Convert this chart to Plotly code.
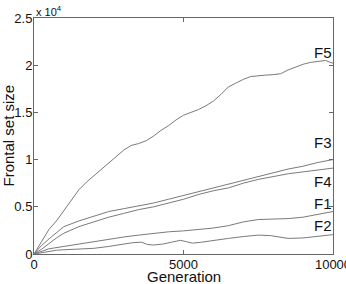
import plotly.graph_objects as go

gen_f5 = [0, 250, 500, 750, 1000, 1250, 1500, 1750, 2000, 2250, 2500, 2750, 3000, 3250, 3500, 3750, 4000, 4250, 4500, 4750, 5000, 5250, 5500, 5750, 6000, 6250, 6500, 6750, 7000, 7250, 7500, 7750, 8000, 8250, 8500, 8750, 9000, 9250, 9500, 9750, 10000]
f5 = [0, 1300, 2600, 3500, 4600, 5800, 6800, 7600, 8300, 9000, 9600, 10400, 11000, 11500, 11700, 12000, 12500, 13100, 13600, 14200, 14700, 15000, 15300, 15700, 16200, 16900, 17700, 18100, 18500, 18800, 18900, 18950, 19000, 19100, 19500, 19800, 20100, 20300, 20400, 20500, 20200]

gen_f34 = [0, 250, 500, 750, 1000, 1500, 2000, 2500, 3000, 3500, 4000, 4500, 5000, 5500, 6000, 6500, 7000, 7500, 8000, 8500, 9000, 9500, 10000]
f3 = [0, 900, 1600, 2300, 2900, 3500, 4000, 4500, 4800, 5100, 5400, 5800, 6200, 6600, 7000, 7400, 7800, 8200, 8600, 9000, 9300, 9700, 10000]
f4 = [0, 500, 1100, 1700, 2200, 2900, 3400, 3900, 4300, 4700, 5000, 5400, 5800, 6300, 6700, 7000, 7500, 7900, 8200, 8500, 8700, 8900, 9100]

gen_f1 = [0, 250, 500, 1000, 1500, 2000, 2500, 3000, 3500, 4000, 4500, 5000, 5500, 6000, 6500, 7000, 7500, 8000, 8500, 9000, 9500, 10000]
f1 = [0, 300, 550, 800, 1050, 1350, 1600, 1800, 2000, 2200, 2350, 2450, 2600, 2750, 3000, 3400, 3650, 3700, 3750, 3900, 4200, 4500]

gen_f2 = [0, 250, 500, 750, 1000, 1500, 2000, 2500, 3000, 3300, 3600, 3800, 4000, 4300, 4600, 4900, 5100, 5300, 5600, 6000, 6500, 7000, 7500, 7900, 8200, 8500, 9000, 9500, 10000]
f2 = [0, 150, 300, 400, 450, 500, 600, 800, 1050, 1200, 1250, 1000, 950, 1050, 1250, 1450, 1300, 1150, 1250, 1450, 1650, 1850, 2000, 1950, 1800, 1650, 1700, 1850, 2050]

series = [("F5", gen_f5, f5, 21300), ("F3", gen_f34, f3, 11800), ("F4", gen_f34, f4, 7700),
          ("F1", gen_f1, f1, 5400), ("F2", gen_f2, f2, 3000)]

y_tickvals = [0, 5000, 10000, 15000, 20000, 25000]
y_ticktext = ["0", "0.5", "1", "1.5", "2", "2.5"]
x_tickvals = [0, 5000, 10000]
x_ticktext = ["0", "5000", "10000"]

FONT = "Liberation Sans, Arial, sans-serif"
fig = go.Figure()
for name, xs, ys, ly in series:
    fig.add_trace(go.Scatter(x=xs, y=ys, mode="lines", name=name,
                             line=dict(color="#7a7a7a", width=1), showlegend=False))
    fig.add_annotation(x=10000, y=ly, text=name, showarrow=False, xanchor="right",
                       yanchor="middle", xshift=1, font=dict(size=15, color="#111", family=FONT))

fig.add_annotation(x=0, y=1, xref="paper", yref="paper", text="x 10<sup>4</sup>",
                   showarrow=False, xanchor="left", yanchor="bottom", yshift=-2,
                   font=dict(size=11, color="#111", family=FONT))
fig.add_annotation(x=0.5, y=0, xref="paper", yref="paper", text="Generation",
                   showarrow=False, xanchor="center", yanchor="top", yshift=-12,
                   font=dict(size=15, color="#111", family=FONT))
fig.add_annotation(x=0, y=0.5, xref="paper", yref="paper", text="Frontal set size",
                   showarrow=False, xanchor="right", yanchor="middle", xshift=-16,
                   textangle=-90, font=dict(size=15, color="#111", family=FONT))

axis_common = dict(showgrid=False, zeroline=False, showline=True, linecolor="#666",
                   linewidth=1, mirror="ticks", ticks="inside", ticklen=4,
                   tickcolor="#666", automargin=False, ticklabeloverflow="allow",
                   ticklabelstandoff=-2,
                   tickfont=dict(size=13, color="#111", family=FONT))
fig.update_xaxes(range=[0, 10000], tickvals=x_tickvals, ticktext=x_ticktext, **axis_common)
fig.update_yaxes(range=[0, 25000], tickvals=y_tickvals, ticktext=y_ticktext, **axis_common)
fig.update_layout(width=346, height=284, margin=dict(l=34, r=13, t=18, b=30),
                  plot_bgcolor="white", paper_bgcolor="white")
fig.write_html("out.html")
